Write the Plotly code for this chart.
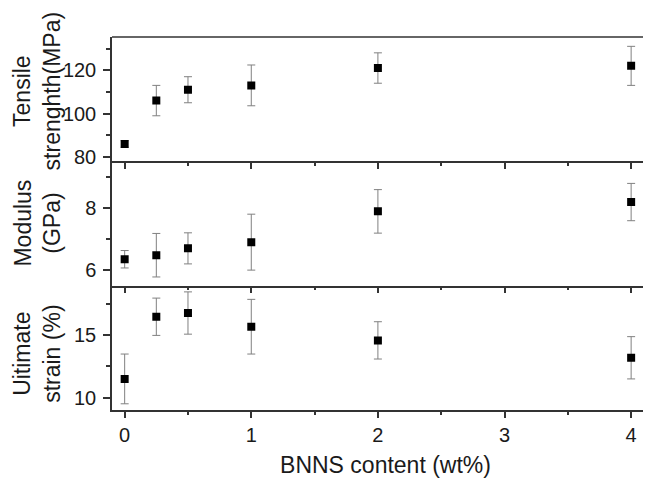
import plotly.graph_objects as go

# Data
bnns = [0, 0.25, 0.5, 1, 2, 4]
tensile = [86, 106, 111, 113, 121, 122]
tensile_err = [1.5, 7, 6, 9.4, 7, 9]
modulus = [6.35, 6.48, 6.7, 6.9, 7.89, 8.19]
modulus_err = [0.28, 0.7, 0.5, 0.9, 0.7, 0.6]
strain = [11.5, 16.5, 16.8, 15.7, 14.6, 13.2]
strain_err = [2.0, 1.5, 1.7, 2.2, 1.5, 1.7]

x_ticks = [0, 1, 2, 3, 4]
panel_titles = ["Tensile<br>strenghth(MPa)", "Modulus<br>(GPa)", "Uitimate<br>strain (%)"]
x_title = "BNNS content (wt%)"

FONT = "Liberation Sans, Arial, sans-serif"
AX = "#333333"
ERR = "#808080"
TXT = "#1a1a1a"

fig = go.Figure()

series = [(tensile, tensile_err, "y"), (modulus, modulus_err, "y2"), (strain, strain_err, "y3")]
xaxes = ["x", "x2", "x3"]
for (vals, errs, ya), xa in zip(series, xaxes):
    fig.add_trace(go.Scatter(
        x=bnns, y=vals, mode="markers", xaxis=xa, yaxis=ya,
        marker=dict(symbol="square", size=8, color="black"),
        error_y=dict(type="data", array=errs, visible=True, color=ERR, thickness=1, width=4),
        showlegend=False,
    ))

xrange = [-0.1, 4.22]
common_x = dict(range=xrange, showline=True, linecolor=AX, linewidth=1.5,
                ticks="outside", ticklen=6, tickwidth=1.5, tickcolor=AX,
                tickvals=x_ticks, showgrid=False, zeroline=False,
                minor=dict(dtick=0.5, tick0=0, ticks="outside", ticklen=3, tickwidth=1.5, tickcolor=AX),
                tickfont=dict(family=FONT, size=20, color=TXT))
common_y = dict(showline=True, linecolor=AX, linewidth=1.5, ticks="outside", ticklen=7,
                tickwidth=1.5, tickcolor=AX, showgrid=False, zeroline=False,
                ticklabelstandoff=3,
                tickfont=dict(family=FONT, size=20, color=TXT))

domains = [[2/3, 1], [1/3, 2/3], [0, 1/3]]

fig.update_layout(
    width=651, height=479,
    margin=dict(l=104, r=0, t=29, b=76.5),
    paper_bgcolor="white", plot_bgcolor="white",
    font=dict(family=FONT, color=TXT),
    xaxis=dict(common_x, anchor="y", showticklabels=False),
    xaxis2=dict(common_x, anchor="y2", matches="x", showticklabels=False),
    xaxis3=dict(common_x, anchor="y3", matches="x",
                title=dict(text=x_title, font=dict(family=FONT, size=23, color=TXT), standoff=12)),
    yaxis=dict(common_y, domain=domains[0], anchor="x", range=[78, 135.3], tickvals=[80, 100, 120],
               minor=dict(tickvals=[90, 110, 130], ticks="outside", ticklen=4, tickwidth=1.5, tickcolor=AX)),
    yaxis2=dict(common_y, domain=domains[1], anchor="x2", range=[5.5, 9.5], tickvals=[6, 8],
                minor=dict(tickvals=[7, 9], ticks="outside", ticklen=4, tickwidth=1.5, tickcolor=AX)),
    yaxis3=dict(common_y, domain=domains[2], anchor="x3", range=[9.0, 19.0], tickvals=[10, 15],
                minor=dict(tickvals=[12.5, 17.5], ticks="outside", ticklen=4, tickwidth=1.5, tickcolor=AX)),
)

# top border of the upper panel
fig.add_shape(type="line", xref="paper", yref="paper", x0=0, x1=1, y0=1, y1=1,
              line=dict(color=AX, width=1.5))

# panel y titles
centers = [(d[0] + d[1]) / 2 for d in domains]
shifts = [0.021, 0.0, -0.016]
for t, c, s in zip(panel_titles, centers, shifts):
    fig.add_annotation(text=t, xref="paper", yref="paper", x=-0.137, y=c + s,
                       xanchor="center", yanchor="middle", textangle=-90, showarrow=False,
                       font=dict(family=FONT, size=23, color=TXT))

fig.write_html("out.html")
